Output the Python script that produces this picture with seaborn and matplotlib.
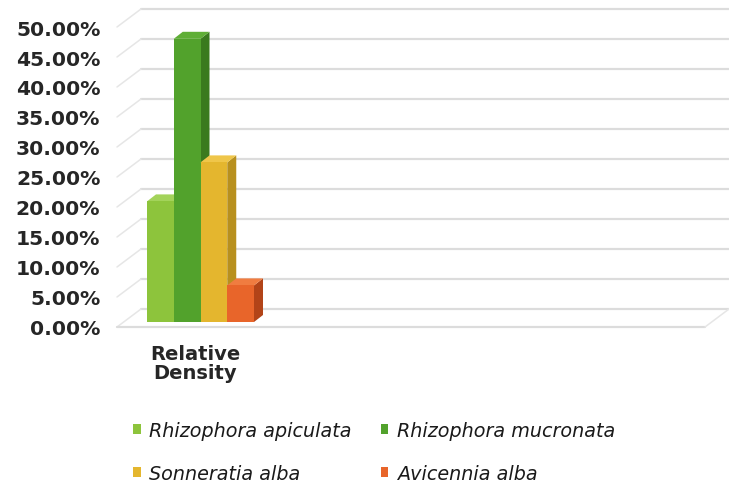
import numpy as np
import pandas as pd
import seaborn as sns
import matplotlib.pyplot as plt
from matplotlib.patches import Polygon
from matplotlib.transforms import ScaledTranslation

# ---- data ----
categories = ["Relative\nDensity"]
species = ["Rhizophora apiculata", "Rhizophora mucronata", "Sonneratia alba", "Avicennia alba"]
density = [20.1, 47.2, 26.6, 6.1]
y_ticks = [0, 5, 10, 15, 20, 25, 30, 35, 40, 45, 50]
tick_labels = [f"{t:.2f}%" for t in y_ticks]

# ---- styling ----
front_colors = ["#8dc43c", "#52a22c", "#e4b62e", "#e8652a"]
side_colors = ["#6a9a28", "#3a7a1e", "#b8901e", "#b24418"]
top_colors = ["#a3d35a", "#5fae36", "#efc64a", "#f07c40"]
grid_color = "#dcdcdc"
text_color = "#262626"

W, H = 729, 485
sns.set_style("white")
plt.rcParams["font.family"] = ["DejaVu Sans"]
fig = plt.figure(figsize=(W / 100, H / 100), dpi=100)

# pixel geometry of the pseudo-3D box
bar_zero_px, bar_top_px = 323, 23          # bar plane: 0% and 50%
front_shift, back_shift = 5, 13            # floor front / back wall vs bar plane (px)
front_left_px, back_left_px = 117, 141
front_right_px, back_right_px = 705, 729
group_center_px, px_per_unit = 200.5, 107 / 0.8
px_per_pct = (bar_zero_px - bar_top_px) / 50.0


def fx(px):
    return (px - group_center_px) / px_per_unit


def dxu(px):
    return px / px_per_unit


def dyu(px):
    return px / px_per_pct


# front plane axis carrying the percentage labels
axf = fig.add_axes([front_left_px / W, (H - bar_zero_px - front_shift) / H,
                    (front_right_px - front_left_px) / W, (bar_zero_px - bar_top_px) / H])
axf.set_ylim(0, 50)
axf.set_yticks(y_ticks)
axf.set_yticklabels(tick_labels, fontsize=14.6, fontweight="bold", color=text_color)
axf.tick_params(axis="y", length=0, pad=12)
axf.set_xticks([])
axf.patch.set_alpha(0)
for s in axf.spines.values():
    s.set_visible(False)

# bar plane axis
ax = fig.add_axes([124 / W, (H - bar_zero_px) / H, (705 - 124) / W, (bar_zero_px - bar_top_px) / H])
df = pd.DataFrame({"category": categories * len(species), "species": species, "density": density})
sns.barplot(data=df, x="category", y="density", hue="species", hue_order=species,
            palette=front_colors, saturation=1, width=0.8, errorbar=None,
            legend=False, ax=ax, linewidth=0)
ax.set_xlim(fx(124), fx(705))
ax.set_ylim(0, 50)
ax.patch.set_alpha(0)
for s in ax.spines.values():
    s.set_visible(False)
ax.set_yticks([])
ax.set_xlabel("")
ax.set_ylabel("")
ax.tick_params(axis="x", length=0, pad=16)
for lbl in ax.get_xticklabels():
    lbl.set_fontsize(14)
    lbl.set_fontweight("bold")
    lbl.set_color(text_color)
    lbl.set_linespacing(1.0)
    lbl.set_ha("center")
    lbl.set_transform(lbl.get_transform() + ScaledTranslation(-5 / 100, 0, fig.dpi_scale_trans))

# back wall gridlines, side wall diagonals and floor
for v in y_ticks:
    ax.plot([fx(back_left_px), fx(back_right_px)], [v + dyu(back_shift)] * 2,
            color=grid_color, lw=1.6, clip_on=False, zorder=1)
    ax.plot([fx(front_left_px), fx(back_left_px)], [v - dyu(front_shift), v + dyu(back_shift)],
            color="#e6e6e6", lw=1.1, clip_on=False, zorder=1)
ax.plot([fx(front_left_px), fx(front_right_px)], [-dyu(front_shift)] * 2,
        color=grid_color, lw=1.6, clip_on=False, zorder=1)
ax.plot([fx(front_right_px), fx(back_right_px)], [-dyu(front_shift), dyu(back_shift)],
        color="#e6e6e6", lw=1.1, clip_on=False, zorder=1)

# depth faces for each bar
bars = sorted([p for p in ax.patches], key=lambda p: p.get_x())
ddx, ddy = dxu(9), dyu(7)
for i, p in enumerate(bars):
    x0, w, h = p.get_x(), p.get_width(), p.get_height()
    p.set_zorder(4 + 2 * i)
    side = Polygon([(x0 + w, 0), (x0 + w + ddx, ddy), (x0 + w + ddx, h + ddy), (x0 + w, h)],
                   closed=True, facecolor=side_colors[i], edgecolor="none", zorder=3 + 2 * i,
                   clip_on=False)
    top = Polygon([(x0, h), (x0 + ddx, h + ddy), (x0 + w + ddx, h + ddy), (x0 + w, h)],
                  closed=True, facecolor=top_colors[i], edgecolor="none", zorder=3 + 2 * i,
                  clip_on=False)
    ax.add_patch(side)
    ax.add_patch(top)

# legend, two rows of two
order = [0, 2, 1, 3]
leg = fig.legend([bars[k] for k in order], [species[k] for k in order], ncol=2,
                 loc="upper left", bbox_to_anchor=(133 / W, 1 - 422 / H),
                 frameon=False, prop={"style": "italic", "size": 13.8},
                 handlelength=0.4, handleheight=0.4, handletextpad=0.45,
                 columnspacing=1.5, labelspacing=1.25, borderpad=0, borderaxespad=0)
for t in leg.get_texts():
    t.set_color("#1a1a1a")

fig.savefig("out.png", dpi=100)
